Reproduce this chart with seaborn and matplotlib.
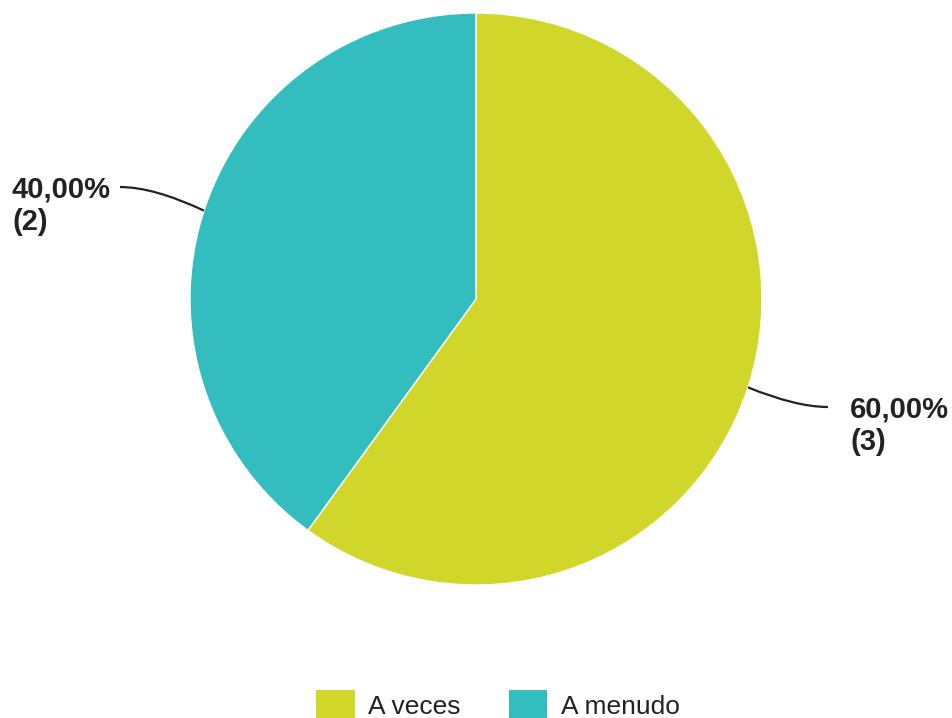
import matplotlib
matplotlib.use("Agg")
import matplotlib.pyplot as plt
from matplotlib.patches import Patch, PathPatch
from matplotlib.path import Path
import numpy as np
import seaborn as sns

# Survey answers
categories = ["A veces", "A menudo"]
counts = [3, 2]
colors = ["#D0D62A", "#33BDBF"]

sns.set_theme(style="white")
plt.rcParams["font.family"] = ["Liberation Sans", "DejaVu Sans"]

W, H = 952, 718
fig = plt.figure(figsize=(W / 100, H / 100), dpi=100)
ax = fig.add_axes([0, 0, 1, 1])

# pixel -> data helpers (pie centre at (476, 299) px, radius 286 px)
cx, cy, R = 476, 299, 286
def px(x, y):
    return ((x - cx) / R, (cy - y) / R)

total = sum(counts)
wedges, _ = ax.pie(counts, colors=colors, startangle=90, counterclock=False,
                   radius=1.0, center=(0, 0),
                   wedgeprops=dict(linewidth=1, edgecolor="white"))

ax.set_xlim(px(0, 0)[0], px(W, 0)[0])
ax.set_ylim(px(0, H)[1], px(0, 0)[1])
ax.set_aspect("equal")
ax.axis("off")

# Outside labels with curved leader lines
label_specs = {
    0: dict(end=(828, 407), text_xy=(850, 426)),
    1: dict(end=(120, 187), text_xy=(12, 206)),
}
start = 90.0
for i, c in enumerate(counts):
    frac = c / total
    mid = np.deg2rad(start - frac * 360 / 2)
    start -= frac * 360
    p0 = (np.cos(mid), np.sin(mid))
    spec = label_specs[i]
    p2 = px(*spec["end"])
    ctrl = (p0[0] + (p2[0] - p0[0]) * 0.6, p2[1])
    path = Path([p0, ctrl, p2], [Path.MOVETO, Path.CURVE3, Path.CURVE3])
    ax.add_patch(PathPatch(path, facecolor="none", edgecolor="#222222", lw=1.6))
    tx, ty = px(*spec["text_xy"])
    ax.text(tx, ty, f"{frac * 100:.2f}%".replace(".", ",") + f"\n({c})",
            ha="left", va="center", fontsize=21, fontweight="bold",
            color="#222222", linespacing=1.2)

handles = [Patch(facecolor=col, edgecolor="none") for col in colors]
fig.legend(handles, categories, loc="upper left",
           bbox_to_anchor=(304 / W - 0.012, 1 - 666 / H), ncol=2, frameon=False,
           fontsize=19, handlelength=1.45, handleheight=1.45,
           handletextpad=0.5, columnspacing=1.85, labelcolor="#222222")

fig.savefig("out.png", dpi=100)
